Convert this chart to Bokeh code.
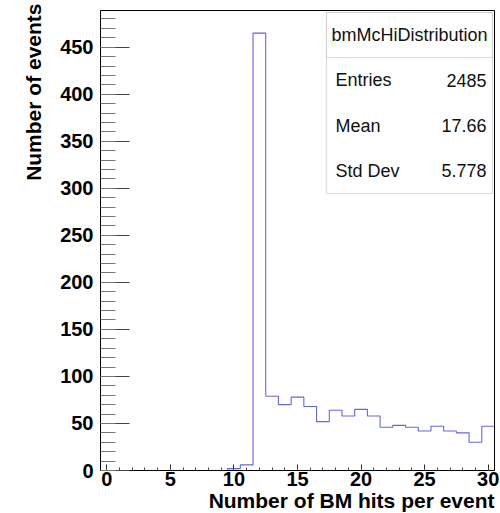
import math
from bokeh.plotting import figure
from bokeh.models import Range1d, FixedTicker, Label, BoxAnnotation, Title
from bokeh.embed import file_html
from bokeh.resources import INLINE

# ---- data ----
bin_centers = list(range(0, 31))
counts = [0, 0, 0, 0, 0, 0, 0, 0, 0, 0,
          2, 6, 465, 79, 70, 78, 68, 52, 64, 58,
          65, 58, 46, 48, 46, 42, 47, 42, 40, 30, 47]
x_ticks = [0, 5, 10, 15, 20, 25, 30]
x_minor = list(range(0, 31))
y_ticks = [0, 50, 100, 150, 200, 250, 300, 350, 400, 450]
y_minor = list(range(0, 490, 10))
stats_title = "bmMcHiDistribution"
stats_names = ["Entries", "Mean", "Std Dev"]
stats_values = ["2485", "17.66", "5.778"]
x_title = "Number of BM hits per event"
y_title = "Number of events"

# ---- layout ----
W, H = 500, 513
FL, FR, FT, FB = 100, 494, 10, 470
XMIN, XMAX = -0.5, 30.5
YMIN, YMAX = 0, 489

def dx(px):
    return XMIN + (px - FL) / (FR - FL) * (XMAX - XMIN)

def dy(py):
    return YMIN + (FB - py) / (FB - FT) * (YMAX - YMIN)

p = figure(width=W, height=H, output_backend="svg", toolbar_location=None,
           x_range=Range1d(XMIN, XMAX), y_range=Range1d(YMIN, YMAX),
           min_border_left=FL, min_border_right=W - FR,
           min_border_top=FT, min_border_bottom=H - FB)
p.background_fill_color = "white"
p.border_fill_color = "white"
p.outline_line_color = "black"
p.outline_line_width = 1
p.grid.visible = False

FONT = "Liberation Sans"

# axes
xa = p.xaxis[0]
xa.ticker = FixedTicker(ticks=x_ticks, minor_ticks=x_minor)
xa.major_tick_in = 6
xa.major_tick_out = 0
xa.minor_tick_in = 3
xa.minor_tick_out = 0
xa.major_label_standoff = 1
xa.major_label_text_font = FONT
xa.major_label_text_font_style = "bold"
xa.major_label_text_font_size = "20px"
xa.major_label_text_color = "black"
xa.axis_line_color = "black"
xa.major_tick_line_color = "#222222"
xa.minor_tick_line_color = "#444444"

ya = p.yaxis[0]
ya.ticker = FixedTicker(ticks=y_ticks, minor_ticks=y_minor)
ya.major_tick_in = 29
ya.major_tick_out = 0
ya.minor_tick_in = 15
ya.minor_tick_out = 0
ya.major_label_standoff = 7
ya.major_label_text_font = FONT
ya.major_label_text_font_style = "bold"
ya.major_label_text_font_size = "20px"
ya.major_label_text_color = "black"
ya.axis_line_color = "black"
ya.major_tick_line_color = "#444444"
ya.minor_tick_line_color = "#777777"

# histogram outline
edges = [c - 0.5 for c in bin_centers] + [bin_centers[-1] + 0.5]
ys = counts + [counts[-1]]
p.step(x=edges, y=ys, mode="after", line_color="#6666dd", line_width=1.1)

# axis titles (placed in the side panels, right/top aligned as in ROOT)
p.add_layout(Title(text=x_title, align="right", text_font=FONT,
                   text_font_style="bold", text_font_size="21px",
                   text_color="black", standoff=-4, offset=0), "below")
p.add_layout(Title(text=y_title, align="right", text_font=FONT,
                   text_font_style="bold", text_font_size="21px",
                   text_color="black", standoff=25, offset=-7), "left")

# stats box
BL, BR, BT, BB, BS = 326, 492, 12, 193, 57
p.add_layout(BoxAnnotation(left=dx(BL), right=dx(BR), top=dy(BT), bottom=dy(BB),
                           fill_color="white", fill_alpha=1.0,
                           line_color="#8a8a8a", line_width=1.2))
p.add_layout(BoxAnnotation(left=dx(BL), right=dx(BR), top=dy(BT), bottom=dy(BS),
                           fill_color="white", fill_alpha=1.0,
                           line_color="#8a8a8a", line_width=1.2))
p.add_layout(Label(x=dx((BL + BR) / 2), y=dy((BT + BS) / 2), text=stats_title,
                   text_align="center", text_baseline="middle", text_font=FONT,
                   text_font_size="18px", text_color="#111111"))
row_h = (BB - BS) / 3
for i, (n, v) in enumerate(zip(stats_names, stats_values)):
    yc = BS + row_h * (i + 0.5)
    p.add_layout(Label(x=dx(335), y=dy(yc), text=n, text_align="left",
                       text_baseline="middle", text_font=FONT,
                       text_font_size="18px", text_color="#111111"))
    p.add_layout(Label(x=dx(486), y=dy(yc), text=v, text_align="right",
                       text_baseline="middle", text_font=FONT,
                       text_font_size="18px", text_color="#111111"))

open("out.html", "w").write(file_html(p, INLINE))
